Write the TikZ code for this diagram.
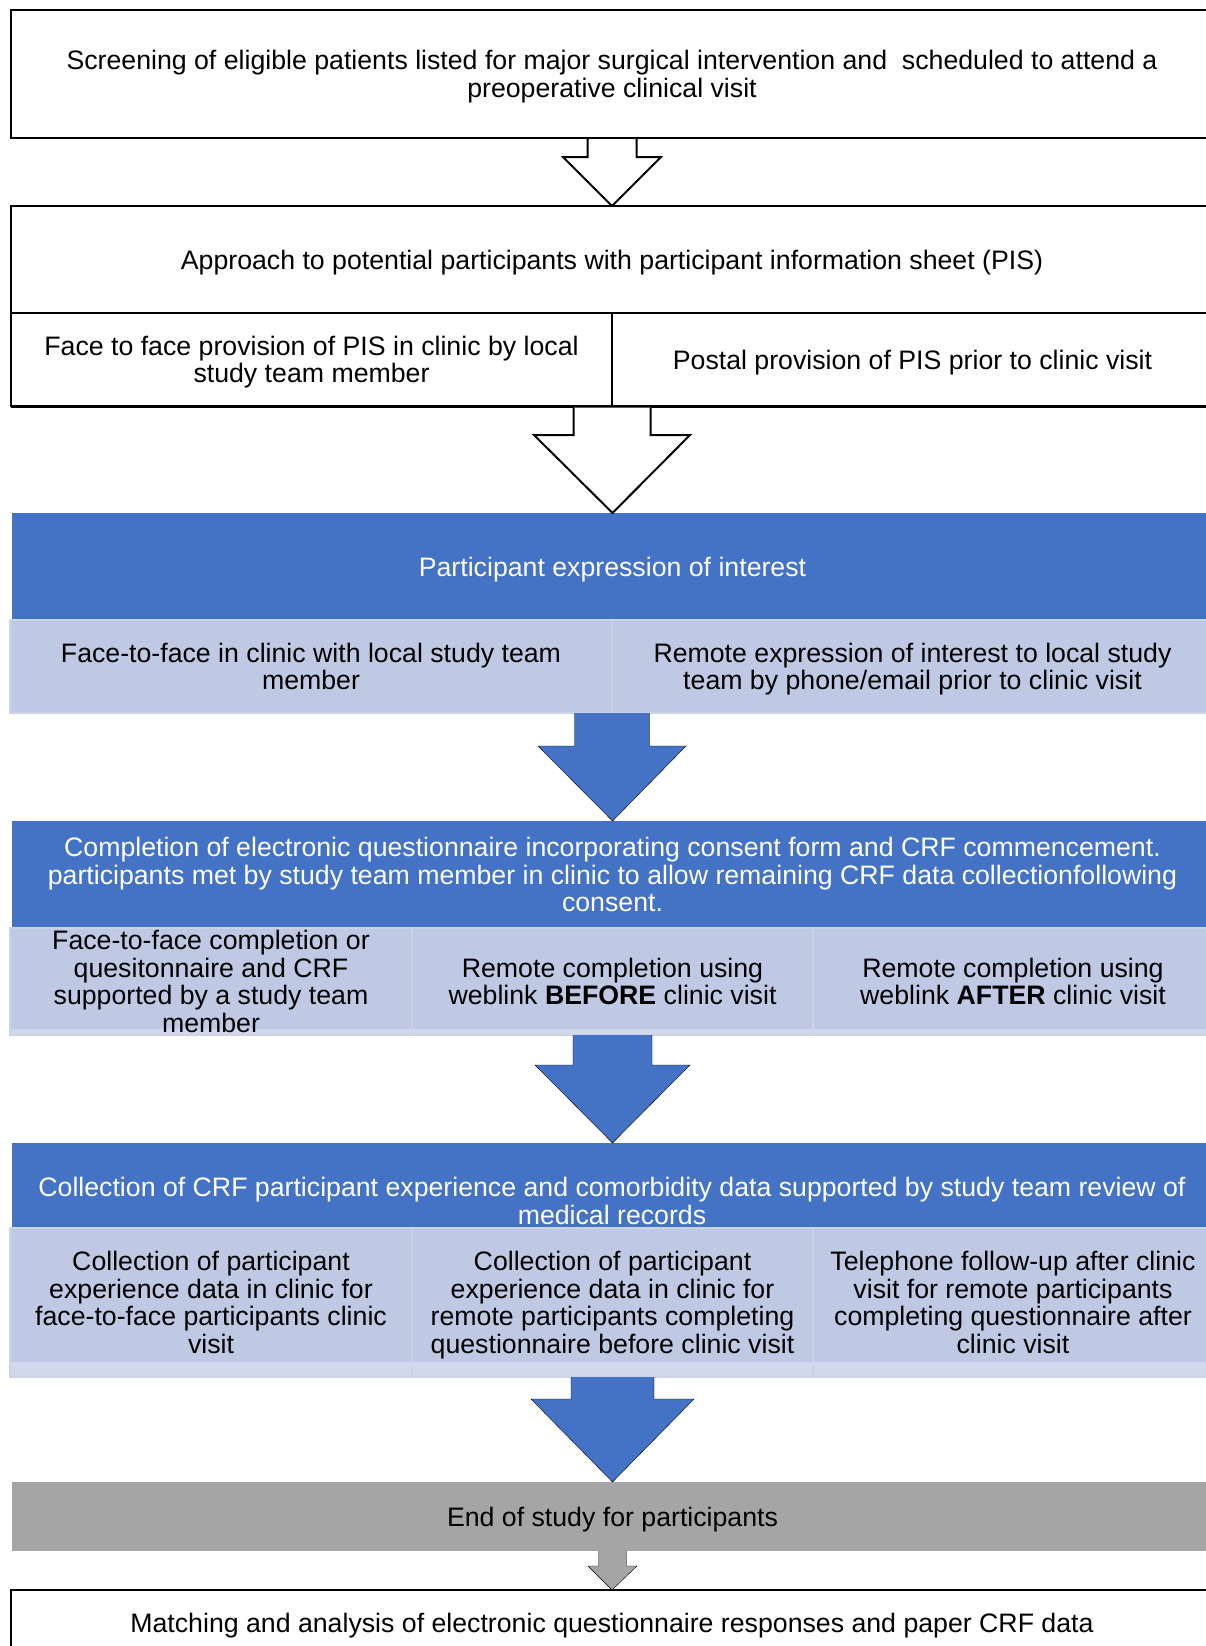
\documentclass[tikz,border=0pt]{standalone}
\usepackage{fontspec}
\setmainfont{Liberation Sans}
\usetikzlibrary{calc}

\definecolor{blueA}{HTML}{4472C4}
\definecolor{paleA}{HTML}{C0C9E4}
\definecolor{paleB}{HTML}{D1D8EC}
\definecolor{paleLine}{HTML}{CCD3E9}
\definecolor{greyA}{HTML}{A5A5A5}

% invisible struts fixing the height of the first line and the depth of the last
\newcommand\topstrut{\rule{0pt}{25pt}}
\newcommand\botstrut{\rule[-6pt]{0pt}{6pt}}

% block arrow: #1 style, #2 start, #3 tip, #4 shaft half width, #5 head half width, #6 head length
\newcommand\blkarrow[6]{%
  \draw[#1] let \p1=(#2), \p2=(#3) in
    (\x1-#4,\y1) -- (\x1-#4,\y2+#6) -- (\x1-#5,\y2+#6) -- (\x2,\y2)
    -- (\x1+#5,\y2+#6) -- (\x1+#4,\y2+#6) -- (\x1+#4,\y1);
}

\tikzset{
  lbl/.style={align=center, inner sep=0pt, outer sep=0pt,
    font=\fontsize{26.7}{27.7}\selectfont,
    execute at begin node=\topstrut, execute at end node=\botstrut},
  frame/.style={lbl, draw=black, line width=2pt, fill=white, anchor=north west},
  bluebox/.style={lbl, fill=blueA, text=white, anchor=north west},
  cell/.style={lbl, fill=paleA, draw=paleLine, line width=1.5pt, anchor=north west},
  band/.style={path picture={\fill[paleB] (path picture bounding box.south west)
    rectangle ([yshift=#1]path picture bounding box.south east);}},
  greybox/.style={lbl, fill=greyA, anchor=north west},
  hollowarrow/.style={draw=black, line width=2pt, fill=white, line join=miter},
  bluearrow/.style={fill=blueA},
  greyarrow/.style={fill=greyA},
}

\begin{document}
\begin{tikzpicture}[x=1pt,y=-1pt]
\useasboundingbox (0,0) rectangle (1206,1646);
\clip (0,0) rectangle (1206,1646);

% screening
\node[frame, minimum width=1202pt, minimum height=128pt] (screen) at (11,10)
  {\topstrut Screening of eligible patients listed for major surgical intervention and\ \ scheduled to attend a\\preoperative clinical visit};

% approach and PIS provision
\node[frame, minimum width=1202pt, minimum height=107pt] (approach) at (11,206)
  {Approach to potential participants with participant information sheet (PIS)};
\node[frame, minimum width=601pt, minimum height=93pt] (pisL) at (11,313)
  {\topstrut Face to face provision of PIS in clinic by local\\study team member};
\node[frame, minimum width=601pt, minimum height=93pt] (pisR) at (612,313)
  {Postal provision of PIS prior to clinic visit};
\draw[line width=3pt] (pisL.south west) -- (pisR.south east);

% expression of interest
\node[bluebox, minimum width=1201pt, minimum height=107pt] (eoi) at (12,513)
  {Participant expression of interest};
\node[cell, minimum width=602pt, minimum height=93pt] (eoiL) at (10,620)
  {\topstrut Face-to-face in clinic with local study team\\member};
\node[cell, minimum width=601pt, minimum height=93pt] (eoiR) at (612,620)
  {\topstrut Remote expression of interest to local study\\team by phone/email prior to clinic visit};

% questionnaire completion
\node[bluebox, minimum width=1201pt, minimum height=107pt] (quest) at (12,821)
  {\topstrut Completion of electronic questionnaire incorporating consent form and CRF commencement.\\participants met by study team member in clinic to allow remaining CRF data collectionfollowing\\consent.};
\node[cell, band=6pt, minimum width=402pt, minimum height=107pt] (qA) at (10,928) {};
\node[lbl] (qAText) at (qA.center)
  {\topstrut Face-to-face completion or\\quesitonnaire and CRF\\supported by a study team\\member};
\node[cell, band=6pt, minimum width=401pt, minimum height=107pt] (qB) at (412,928)
  {\topstrut Remote completion using\\weblink \textbf{BEFORE} clinic visit};
\node[cell, band=6pt, minimum width=400pt, minimum height=107pt] (qC) at (813,928)
  {\topstrut Remote completion using\\weblink \textbf{AFTER} clinic visit};

% CRF collection
\node[bluebox, minimum width=1201pt, minimum height=85pt] (crf) at (12,1143) {};
\node[lbl, text=white] (crfText) at (612,1201)
  {\topstrut Collection of CRF participant experience and comorbidity data supported by study team review of\\medical records};
\node[cell, band=15pt, minimum width=402pt, minimum height=149pt] (cA) at (10,1228)
  {\topstrut Collection of participant\\experience data in clinic for\\face-to-face participants clinic\\visit};
\node[cell, band=15pt, minimum width=401pt, minimum height=149pt] (cB) at (412,1228)
  {\topstrut Collection of participant\\experience data in clinic for\\remote participants completing\\questionnaire before clinic visit};
\node[cell, band=15pt, minimum width=400pt, minimum height=149pt] (cC) at (813,1228)
  {\topstrut Telephone follow-up after clinic\\visit for remote participants\\completing questionnaire after\\clinic visit};

% end of study
\node[greybox, minimum width=1201pt, minimum height=69pt] (endstudy) at (12,1482)
  {End of study for participants};

% matching and analysis
\node[frame, minimum width=1202pt, minimum height=66pt] (match) at (11,1590)
  {Matching and analysis of electronic questionnaire responses and paper CRF data};

% block arrows between stages
\blkarrow{hollowarrow}{$(screen.south)+(0,1)$}{approach.north}{24.5}{49}{49}
\blkarrow{hollowarrow}{$(pisL.south east)+(0,1.5)$}{eoi.north}{38.5}{78}{78}
\blkarrow{bluearrow}{eoiL.south east}{quest.north}{37.5}{74}{75}
\blkarrow{bluearrow}{qB.south}{crf.north}{39.5}{77.5}{78}
\blkarrow{bluearrow}{cB.south}{endstudy.north}{41.5}{81.5}{83}
\blkarrow{greyarrow}{endstudy.south}{match.north}{14}{24.5}{24}
\end{tikzpicture}
\end{document}
